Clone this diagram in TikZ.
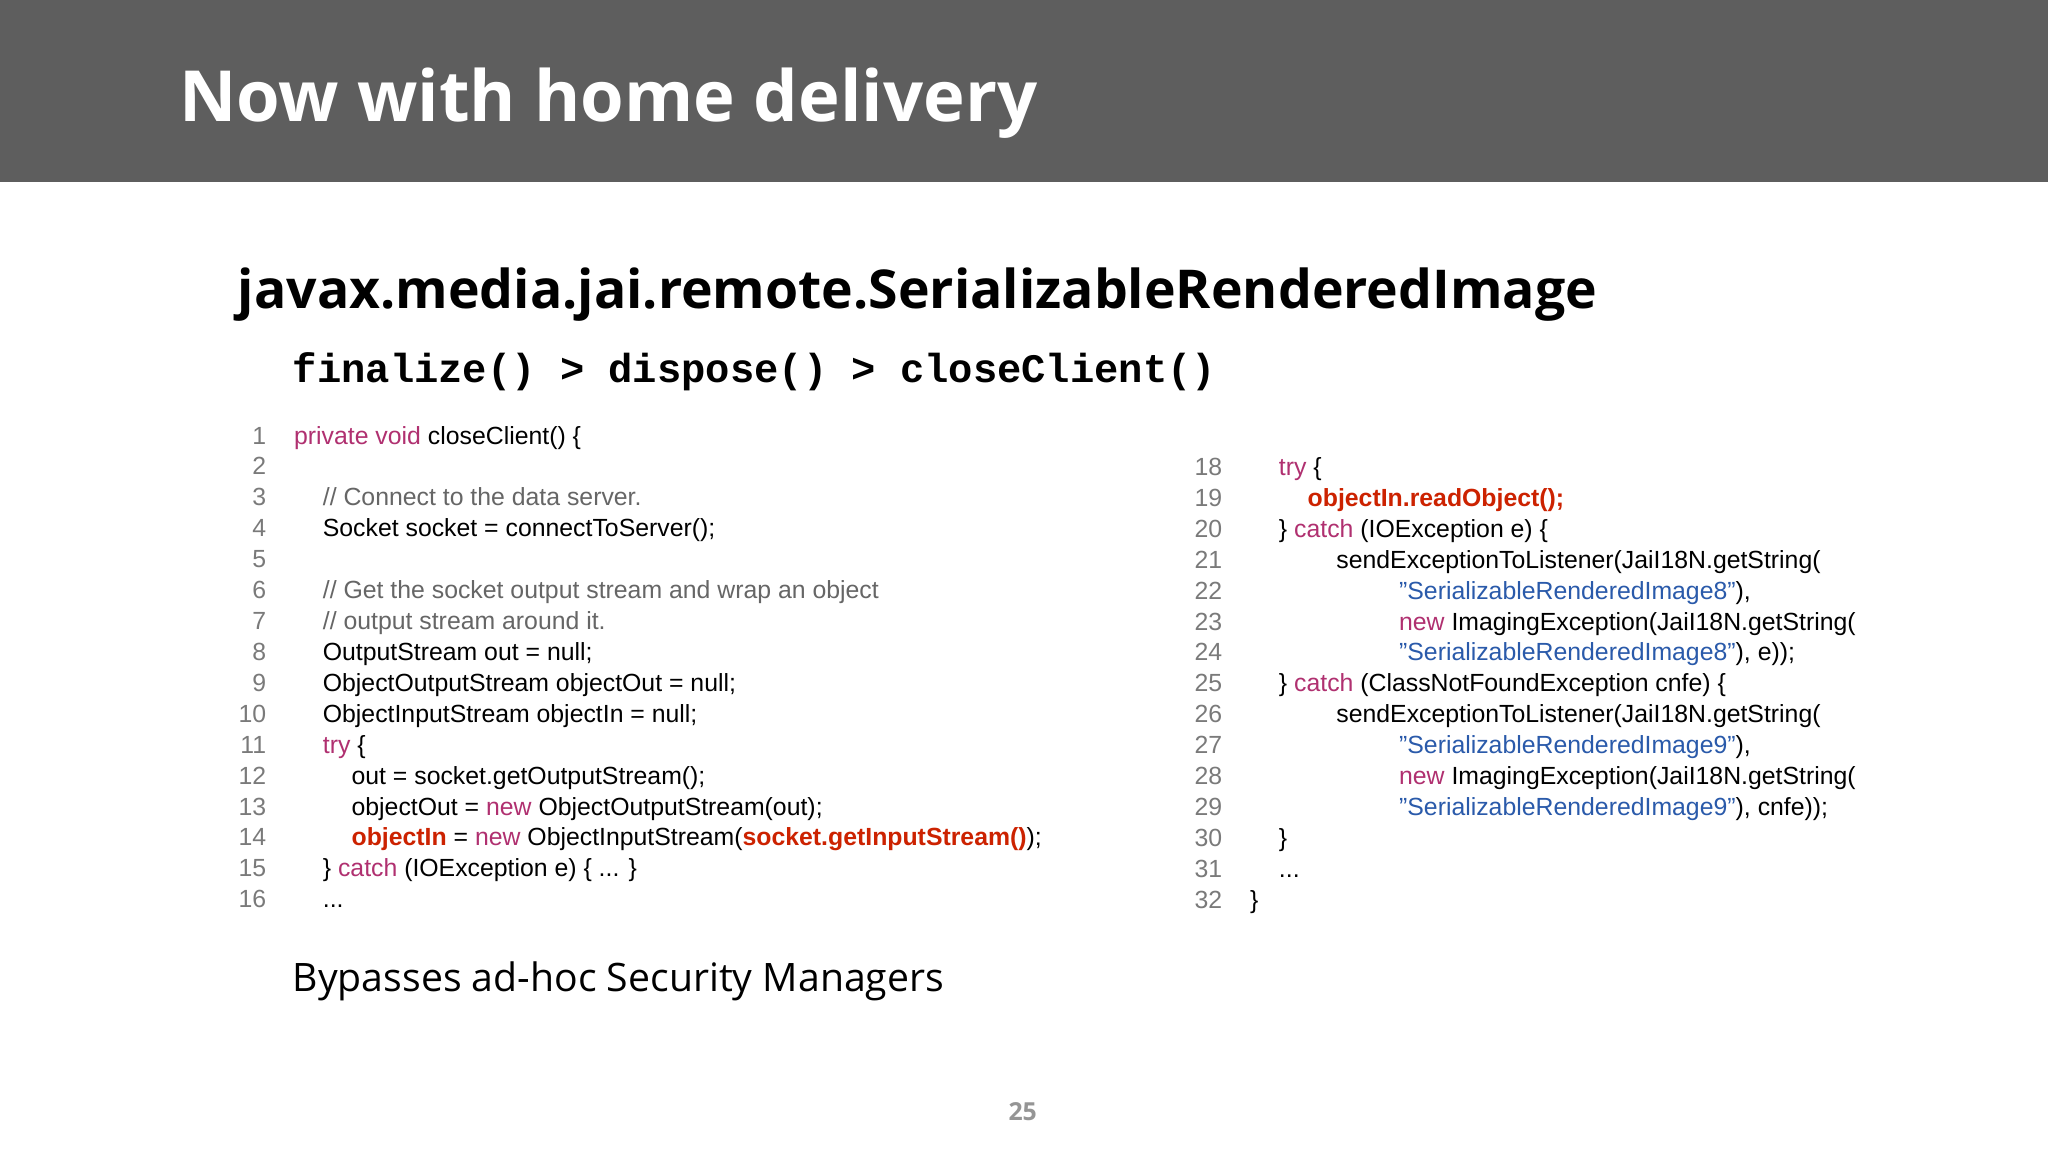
\documentclass[tikz,border=0pt]{standalone}
\usepackage{fontspec}
\setmainfont{Liberation Sans}
\newfontfamily\osans{Open Sans}
\newfontfamily\lmono{Liberation Mono}
\definecolor{hdr}{HTML}{5E5E5E}
\definecolor{kw}{HTML}{B03070}
\definecolor{cm}{HTML}{666666}
\definecolor{st}{HTML}{2A5AAA}
\definecolor{rd}{HTML}{CC2200}
\definecolor{ln}{HTML}{7A7A7A}
\newcommand{\K}[1]{\textcolor{kw}{#1}}
\newcommand{\C}[1]{\textcolor{cm}{#1}}
\newcommand{\Sq}[1]{\textcolor{st}{#1}}
\newcommand{\R}[1]{\textcolor{rd}{\bfseries #1}}
\begin{document}
\begin{tikzpicture}[x=1pt,y=-1pt,
  code/.style={anchor=base west,inner sep=0,font=\fontsize{19}{19}\selectfont},
  num/.style={anchor=base east,inner sep=0,text=ln,font=\fontsize{19}{19}\selectfont}]
\useasboundingbox (0,0) rectangle (1568,882);
\fill[white] (0,0) rectangle (1568,882);
\fill[hdr] (0,0) rectangle (1568,139);
\node[anchor=base west,inner sep=0,text=white,font=\osans\bfseries\fontsize{54}{54}\selectfont] (title) at (137,93) {Now with home delivery};
\node[anchor=base west,inner sep=0,font=\osans\bfseries\fontsize{41}{41}\selectfont] (sub) at (182,236) {javax.media.jai.remote.SerializableRenderedImage};
\node[anchor=base west,inner sep=0,font=\lmono\bfseries\fontsize{31}{31}\selectfont] (chain) at (224,293) {finalize() > dispose() > closeClient()};
% left column
\foreach \n/\t [count=\i] in {
 1/{\K{private void} closeClient() \{},
 2/{},
 3/{\hspace{22pt}\C{// Connect to the data server.}},
 4/{\hspace{22pt}Socket socket = connectToServer();},
 5/{},
 6/{\hspace{22pt}\C{// Get the socket output stream and wrap an object}},
 7/{\hspace{22pt}\C{// output stream around it.}},
 8/{\hspace{22pt}OutputStream out = null;},
 9/{\hspace{22pt}ObjectOutputStream objectOut = null;},
 10/{\hspace{22pt}ObjectInputStream objectIn = null;},
 11/{\hspace{22pt}\K{try} \{},
 12/{\hspace{44pt}out = socket.getOutputStream();},
 13/{\hspace{44pt}objectOut = \K{new} ObjectOutputStream(out);},
 14/{\hspace{44pt}\R{objectIn} = \K{new} ObjectInputStream(\R{socket.getInputStream()});},
 15/{\hspace{22pt}\} \K{catch} (IOException e) \{ ... \}},
 16/{\hspace{22pt}...}} {
  \node[num] (ln\n) at (204,{340+(\i-1)*23.67}) {\n};
  \node[code] (lc\n) at (225,{340+(\i-1)*23.67}) {\t};
}
% right column
\foreach \n/\t [count=\i] in {
 18/{\hspace{22pt}\K{try} \{},
 19/{\hspace{44pt}\R{objectIn.readObject();}},
 20/{\hspace{22pt}\} \K{catch} (IOException e) \{},
 21/{\hspace{66pt}sendExceptionToListener(JaiI18N.getString(},
 22/{\hspace{114pt}\Sq{"SerializableRenderedImage8"}),},
 23/{\hspace{114pt}\K{new} ImagingException(JaiI18N.getString(},
 24/{\hspace{114pt}\Sq{"SerializableRenderedImage8"}), e));},
 25/{\hspace{22pt}\} \K{catch} (ClassNotFoundException cnfe) \{},
 26/{\hspace{66pt}sendExceptionToListener(JaiI18N.getString(},
 27/{\hspace{114pt}\Sq{"SerializableRenderedImage9"}),},
 28/{\hspace{114pt}\K{new} ImagingException(JaiI18N.getString(},
 29/{\hspace{114pt}\Sq{"SerializableRenderedImage9"}), cnfe));},
 30/{\hspace{22pt}\}},
 31/{\hspace{22pt}...},
 32/{\}}} {
  \node[num] (rn\n) at (936,{364+(\i-1)*23.67}) {\n};
  \node[code] (rc\n) at (957,{364+(\i-1)*23.67}) {\t};
}
\node[anchor=base west,inner sep=0,font=\osans\fontsize{30}{30}\selectfont] (bypass) at (224,759) {Bypasses ad-hoc Security Managers};
\node[inner sep=0,text=ln!80,font=\osans\bfseries\fontsize{19}{19}\selectfont] (page) at (783,851) {25};
\end{tikzpicture}
\end{document}
